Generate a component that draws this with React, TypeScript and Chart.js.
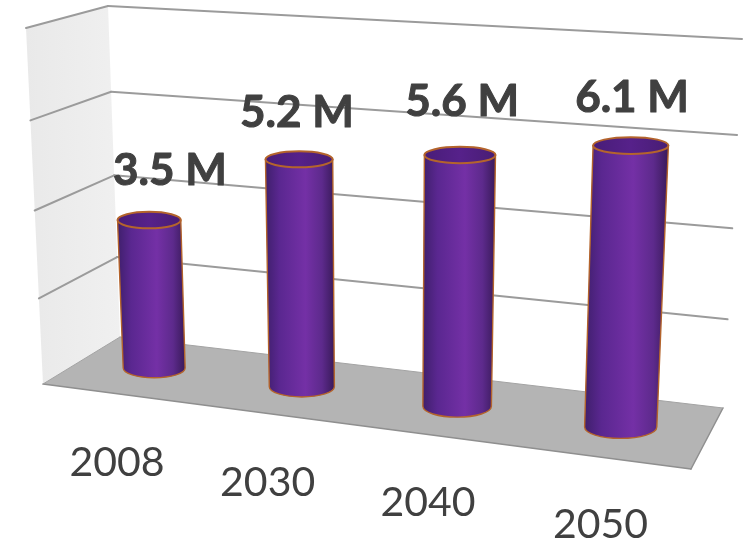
import React, { useEffect, useRef } from "react";
import { Chart, registerables } from "chart.js";

Chart.register(...registerables);

// Chart values
const years = ["2008", "2030", "2040", "2050"];
const populationMillions = [3.5, 5.2, 5.6, 6.1];
const valueLabels = ["3.5 M", "5.2 M", "5.6 M", "6.1 M"];
const axisMax = 8;
const axisStep = 2;

type Pt = [number, number];

// Corners of each face of the box, listed (u=0,t=0), (u=1,t=0), (u=1,t=1), (u=0,t=1)
const backWallQuad: Pt[] = [[120, 337], [723, 408], [742, 39], [108, 6]];
const sideWallQuad: Pt[] = [[43, 384], [120, 337], [108, 6], [26, 28]];
const floorQuad: Pt[] = [[43, 384], [691, 469], [723, 408], [120, 337]];
const barPlaneQuad: Pt[] = [[154, 368], [620.5, 427], [633.8, 53], [142.2, 20]];

// Text placement relative to the projected ends of each bar
const valueLabelShift: Pt[] = [[21, -35], [-2, -32], [2.5, -39], [1.5, -34]];
const yearLabelShift: Pt[] = [[-37, 108], [-34, 109], [-29, 110], [-20, 111]];

// Projective map from the unit square onto a quadrilateral
function planeMap(q: Pt[]) {
  const [[x0, y0], [x1, y1], [x2, y2], [x3, y3]] = q;
  const dx1 = x1 - x2, dx2 = x3 - x2, sx = x0 - x1 + x2 - x3;
  const dy1 = y1 - y2, dy2 = y3 - y2, sy = y0 - y1 + y2 - y3;
  const den = dx1 * dy2 - dx2 * dy1;
  const g = (sx * dy2 - dx2 * sy) / den;
  const h = (dx1 * sy - sx * dy1) / den;
  const a = x1 - x0 + g * x1, b = x3 - x0 + h * x3;
  const d = y1 - y0 + g * y1, e = y3 - y0 + h * y3;
  return (u: number, t: number): Pt => {
    const w = g * u + h * t + 1;
    return [(a * u + b * t + x0) / w, (d * u + e * t + y0) / w];
  };
}

const onBack = planeMap(backWallQuad);
const onSide = planeMap(sideWallQuad);
const onBars = planeMap(barPlaneQuad);

function fillQuad(ctx: CanvasRenderingContext2D, q: Pt[], fill: string | CanvasGradient) {
  ctx.beginPath();
  q.forEach(([x, y], i) => (i ? ctx.lineTo(x, y) : ctx.moveTo(x, y)));
  ctx.closePath();
  ctx.fillStyle = fill;
  ctx.fill();
}

function segment(ctx: CanvasRenderingContext2D, a: Pt, b: Pt) {
  ctx.beginPath();
  ctx.moveTo(a[0], a[1]);
  ctx.lineTo(b[0], b[1]);
  ctx.stroke();
}

// Side wall, floor and gridlines, one line per tick of the value axis
function drawBox(chart: any) {
  const ctx: CanvasRenderingContext2D = chart.ctx;
  const yScale = chart.scales.y;
  const wall = ctx.createLinearGradient(26, 0, 120, 0);
  wall.addColorStop(0, "#e9e9e9");
  wall.addColorStop(1, "#f0f0f0");
  fillQuad(ctx, sideWallQuad, wall);
  fillQuad(ctx, floorQuad, "#b4b4b4");

  ctx.lineCap = "round";
  ctx.strokeStyle = "#9b9b9b";
  ctx.lineWidth = 2;
  for (const tick of yScale.ticks) {
    if (tick.value === 0) continue;
    const t = tick.value / yScale.max;
    segment(ctx, onSide(0, t), onSide(1, t));
    segment(ctx, onBack(0, t), onBack(1, t));
  }
  ctx.strokeStyle = "#8f8f8f";
  ctx.lineWidth = 1.5;
  segment(ctx, floorQuad[0], floorQuad[1]);
  segment(ctx, floorQuad[1], floorQuad[2]);
  ctx.strokeStyle = "#a3a3a3";
  ctx.lineWidth = 1;
  segment(ctx, floorQuad[2], floorQuad[3]);
  segment(ctx, floorQuad[3], floorQuad[0]);
}

// Flatter ellipses higher up, as the eye level is approached
const ellipseRatio = (t: number) => 0.315 - 0.12 * t;

function drawCylinder(ctx: CanvasRenderingContext2D, u: number, du: number, t: number, baseColor: string, edgeColor: string) {
  const bl = onBars(u - du, 0), br = onBars(u + du, 0);
  const tl = onBars(u - du, t), tr = onBars(u + du, t);
  const bottom: Pt = [(bl[0] + br[0]) / 2, (bl[1] + br[1]) / 2];
  const top: Pt = [(tl[0] + tr[0]) / 2, (tl[1] + tr[1]) / 2];
  const rxB = (br[0] - bl[0]) / 2, rxT = (tr[0] - tl[0]) / 2;
  const ryB = rxB * ellipseRatio(0), ryT = rxT * ellipseRatio(t);

  const shade = ctx.createLinearGradient(Math.min(bl[0], tl[0]), 0, Math.max(br[0], tr[0]), 0);
  shade.addColorStop(0, "#3f1f6c");
  shade.addColorStop(0.2, "#5a2790");
  shade.addColorStop(0.58, baseColor);
  shade.addColorStop(0.82, "#5d2a8c");
  shade.addColorStop(1, "#391a5a");

  ctx.beginPath();
  ctx.moveTo(tl[0], top[1]);
  ctx.lineTo(bl[0], bottom[1]);
  ctx.ellipse(bottom[0], bottom[1], rxB, ryB, 0, Math.PI, 0, true);
  ctx.lineTo(tr[0], top[1]);
  ctx.closePath();
  ctx.fillStyle = shade;
  ctx.fill();

  ctx.strokeStyle = edgeColor;
  ctx.lineWidth = 1.4;
  ctx.beginPath();
  ctx.moveTo(tl[0], top[1]);
  ctx.lineTo(bl[0], bottom[1]);
  ctx.ellipse(bottom[0], bottom[1], rxB, ryB, 0, Math.PI, 0, true);
  ctx.lineTo(tr[0], top[1]);
  ctx.stroke();

  const cap = ctx.createLinearGradient(tl[0], 0, tr[0], 0);
  cap.addColorStop(0, "#481d78");
  cap.addColorStop(0.5, "#56218a");
  cap.addColorStop(1, "#481d74");
  ctx.beginPath();
  ctx.ellipse(top[0], top[1], rxT, ryT, 0, 0, Math.PI * 2);
  ctx.fillStyle = cap;
  ctx.fill();
  ctx.lineWidth = 2;
  ctx.stroke();
}

const cylinderPlugin = {
  id: "cylinders",
  beforeDatasetsDraw: drawBox,
  // Each bar of the dataset is painted as a cylinder through the projection
  beforeDatasetDraw(chart: any, args: any) {
    const ctx: CanvasRenderingContext2D = chart.ctx;
    const xScale = chart.scales.x, yScale = chart.scales.y;
    const x0 = xScale.getPixelForValue(0);
    const span = xScale.getPixelForValue(years.length - 1) - x0;
    const meta = chart.getDatasetMeta(args.index);
    ctx.save();
    meta.data.forEach((bar: any) => {
      const t = yScale.getValueForPixel(bar.y) / yScale.max;
      drawCylinder(ctx, (bar.x - x0) / span, bar.width / 2 / span, t, bar.options.backgroundColor, bar.options.borderColor);
    });
    ctx.restore();
    return false;
  },
  afterDatasetsDraw(chart: any) {
    const ctx: CanvasRenderingContext2D = chart.ctx;
    const xScale = chart.scales.x, yScale = chart.scales.y;
    const x0 = xScale.getPixelForValue(0);
    const span = xScale.getPixelForValue(years.length - 1) - x0;
    const meta = chart.getDatasetMeta(0);
    ctx.save();
    ctx.fillStyle = "#404040";
    ctx.strokeStyle = "#404040";
    ctx.lineJoin = "round";
    ctx.textAlign = "center";
    ctx.textBaseline = "alphabetic";
    meta.data.forEach((bar: any, i: number) => {
      const u = (bar.x - x0) / span;
      const t = yScale.getValueForPixel(bar.y) / yScale.max;
      const top = onBars(u, t), foot = onBars(u, 0);
      const vx = top[0] + valueLabelShift[i][0], vy = top[1] + valueLabelShift[i][1];
      ctx.font = "bold 44px Lato";
      ctx.lineWidth = 1;
      ctx.fillText(valueLabels[i], vx, vy);
      ctx.strokeText(valueLabels[i], vx, vy);
      ctx.font = "41px Lato";
      ctx.fillText(years[i], foot[0] + yearLabelShift[i][0], foot[1] + yearLabelShift[i][1]);
    });
    ctx.restore();
  },
};

export default function App() {
  const canvasRef = useRef<HTMLCanvasElement | null>(null);

  useEffect(() => {
    const chart = new Chart(canvasRef.current as HTMLCanvasElement, {
      type: "bar",
      data: {
        labels: years,
        datasets: [
          {
            label: "Population",
            data: populationMillions,
            backgroundColor: "#7430a6",
            borderColor: "#b4642c",
            categoryPercentage: 0.43,
            barPercentage: 1,
          },
        ],
      },
      options: {
        animation: false,
        responsive: false,
        layout: { padding: 0 },
        plugins: { legend: { display: false }, tooltip: { enabled: false } },
        scales: {
          x: { display: false },
          y: { display: false, min: 0, max: axisMax, ticks: { stepSize: axisStep } },
        },
      },
      plugins: [cylinderPlugin],
    });
    return () => chart.destroy();
  }, []);

  return (
    <div style={{ position: "absolute", left: 0, top: 0, width: 745, height: 546, background: "#fff" }}>
      <canvas ref={canvasRef} width={745} height={546} style={{ display: "block" }} />
    </div>
  );
}
